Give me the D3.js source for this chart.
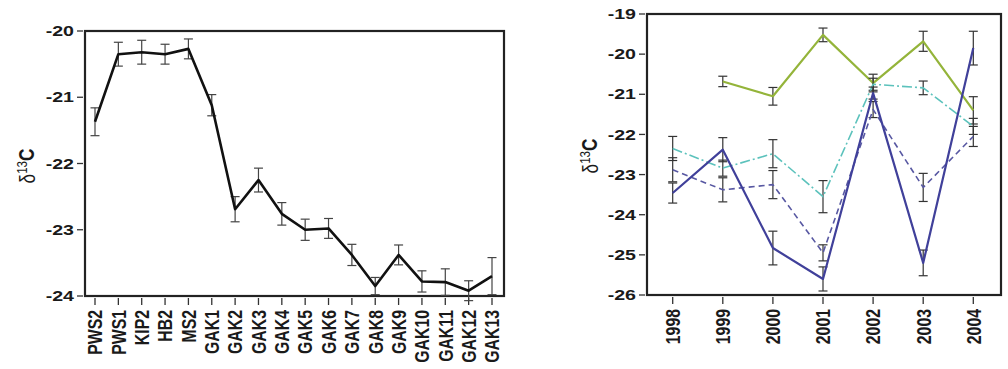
<!DOCTYPE html>
<html>
<head>
<meta charset="utf-8">
<script src="https://cdn.jsdelivr.net/npm/d3@7"></script>
<style>
  html, body { margin: 0; padding: 0; background: #fff; }
  svg { display: block; }
  text { font-family: "Liberation Sans", Arial, sans-serif; font-weight: bold; fill: #1a1a1a; }
</style>
</head>
<body>
<svg id="chart" width="1008" height="369"></svg>
<script>
// Spatial transect: station means and standard errors
const stations = ["PWS2","PWS1","KIP2","HB2","MS2","GAK1","GAK2","GAK3","GAK4","GAK5","GAK6","GAK7","GAK8","GAK9","GAK10","GAK11","GAK12","GAK13"];
const stationMean = [-21.37,-20.35,-20.32,-20.35,-20.27,-21.12,-22.69,-22.25,-22.76,-23.0,-22.98,-23.38,-23.85,-23.38,-23.78,-23.79,-23.92,-23.7];
const stationErr  = [0.21,0.18,0.18,0.15,0.15,0.16,0.19,0.18,0.17,0.16,0.15,0.16,0.13,0.15,0.16,0.2,0.15,0.28];
const leftTicks = [-20,-21,-22,-23,-24];

// Interannual series
const years = [1998,1999,2000,2001,2002,2003,2004];
const seriesGreen     = [null,-20.68,-21.05,-19.52,-20.72,-19.68,-21.4];
const seriesGreenErr  = [null,0.13,0.22,0.17,0.22,0.25,0.34];
const seriesCyan      = [-22.35,-22.84,-22.48,-23.55,-20.75,-20.84,-21.8];
const seriesCyanErr   = [0.3,0.2,0.35,0.4,0.15,0.17,0.2];
const seriesDashed    = [-22.88,-23.38,-23.25,-24.95,-21.38,-23.32,-22.05];
const seriesDashedErr = [0.3,0.3,0.35,0.2,0.2,0.35,0.25];
const seriesPurple    = [-23.46,-22.38,-24.83,-25.6,-20.97,-25.2,-19.85];
const seriesPurpleErr = [0.25,0.3,0.42,0.3,0.15,0.32,0.42];
const rightTicks = [-19,-20,-21,-22,-23,-24,-25,-26];

const svg = d3.select("#chart");

function panel(cfg) {
  const g = svg.append("g");
  const { x, y, frame } = cfg;

  // y axis ticks and labels
  cfg.yTicks.forEach(t => {
    g.append("line")
      .attr("x1", frame.left - 8).attr("x2", frame.left - 2)
      .attr("y1", y(t)).attr("y2", y(t))
      .attr("stroke", "#333").attr("stroke-width", 1.3);
    g.append("text")
      .attr("transform", `translate(${frame.left - 11},${y(t)}) scale(1.4,1.05)`)
      .attr("text-anchor", "end").attr("dy", "0.35em")
      .attr("font-size", 14)
      .text(d3.format("d")(t).replace("−", "-"));
  });

  // x axis ticks and rotated labels
  cfg.xValues.forEach(v => {
    const px = x(v);
    g.append("line")
      .attr("x1", px).attr("x2", px)
      .attr("y1", frame.bottom + 2).attr("y2", frame.bottom + 9)
      .attr("stroke", "#333").attr("stroke-width", 1.3);
    g.append("text")
      .attr("transform", `translate(${px},${frame.bottom + 14}) rotate(-90) scale(1.13,1.45)`)
      .attr("text-anchor", "end").attr("dy", "0.36em")
      .attr("font-size", 14)
      .text(String(v));
  });

  // y axis title: δ13C
  const title = g.append("text")
    .attr("transform", `translate(${cfg.titleX},${cfg.titleY}) rotate(-90) scale(1.15,1.45)`)
    .attr("text-anchor", "middle").attr("dy", "0.35em")
    .attr("font-size", 15);
  title.append("tspan").attr("font-weight", "normal").text("δ");
  title.append("tspan").attr("font-size", 10).attr("dy", "-0.55em").attr("font-weight", "normal").text("13");
  title.append("tspan").attr("dy", "0.35em").text("C");

  // frame
  g.append("rect")
    .attr("x", frame.left).attr("y", frame.top)
    .attr("width", frame.right - frame.left).attr("height", frame.bottom - frame.top)
    .attr("fill", "none").attr("stroke", "#222").attr("stroke-width", 2.2);

  return g;
}

function drawSeries(g, x, y, xs, vals, errs, style) {
  const pts = xs.map((d, i) => ({ k: d, v: vals[i], e: errs[i] })).filter(p => p.v != null);
  // error bars
  pts.forEach(p => {
    const px = x(p.k);
    const y0 = y(p.v - p.e), y1 = y(p.v + p.e);
    g.append("line").attr("x1", px).attr("x2", px).attr("y1", y0).attr("y2", y1)
      .attr("stroke", style.errColor).attr("stroke-width", 1.2);
    [y0, y1].forEach(yy => g.append("line")
      .attr("x1", px - 4.5).attr("x2", px + 4.5).attr("y1", yy).attr("y2", yy)
      .attr("stroke", style.errColor).attr("stroke-width", 1.2));
  });
  const line = d3.line().x(p => x(p.k)).y(p => y(p.v));
  g.append("path").datum(pts).attr("d", line)
    .attr("fill", "none").attr("stroke", style.color)
    .attr("stroke-width", style.width)
    .attr("stroke-dasharray", style.dash || null)
    .attr("stroke-linejoin", "round");
}

// Left panel: transect
const leftFrame = { left: 85, right: 504, top: 31, bottom: 296 };
const xLeft = d3.scalePoint().domain(stations).range([95, 492]);
const yLeft = d3.scaleLinear().domain([-24, -20]).range([leftFrame.bottom, leftFrame.top]);
const gL = panel({ x: xLeft, y: yLeft, frame: leftFrame, yTicks: leftTicks, xValues: stations, titleX: 27, titleY: 166 });
drawSeries(gL, xLeft, yLeft, stations, stationMean, stationErr,
  { color: "#111", width: 2.6, errColor: "#444" });

// Right panel: years
const rightFrame = { left: 647, right: 1001, top: 14, bottom: 295 };
const xRight = d3.scalePoint().domain(years).range([672.7, 973.3]);
const yRight = d3.scaleLinear().domain([-26, -19]).range([rightFrame.bottom, rightFrame.top]);
const gR = panel({ x: xRight, y: yRight, frame: rightFrame, yTicks: rightTicks, xValues: years, titleX: 590, titleY: 156 });
drawSeries(gR, xRight, yRight, years, seriesGreen, seriesGreenErr,
  { color: "#94b43a", width: 2.2, errColor: "#333" });
drawSeries(gR, xRight, yRight, years, seriesCyan, seriesCyanErr,
  { color: "#5cc2bc", width: 1.6, errColor: "#333", dash: "10,3,2,3" });
drawSeries(gR, xRight, yRight, years, seriesDashed, seriesDashedErr,
  { color: "#5858a2", width: 1.6, errColor: "#333", dash: "6,4" });
drawSeries(gR, xRight, yRight, years, seriesPurple, seriesPurpleErr,
  { color: "#40409a", width: 2.2, errColor: "#333" });
</script>
</body>
</html>
